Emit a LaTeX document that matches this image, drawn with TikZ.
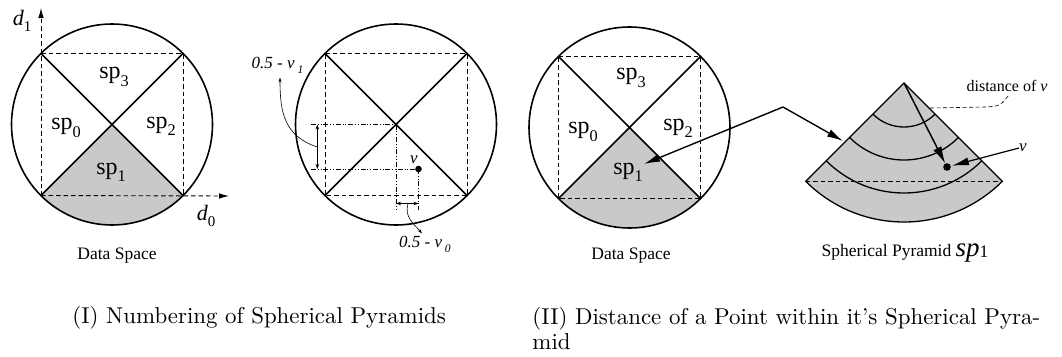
\documentclass[tikz,border=0pt]{standalone}
\usepackage{fontspec}
\newfontfamily\tms{Liberation Serif}
\usetikzlibrary{arrows.meta,calc}
\newcommand\sbs[1]{\raisebox{-0.3em}{\scalebox{0.68}{#1}}}
\begin{document}
\begin{tikzpicture}[x=1pt,y=-1pt,
  circ/.style={line width=1.6pt},
  diag/.style={line width=1.6pt},
  dsh/.style={line width=0.9pt,dash pattern=on 4.5pt off 3pt},
  ddot/.style={line width=0.8pt,dash pattern=on 5pt off 1.8pt on 1pt off 1.8pt on 1pt off 1.8pt},
  shade/.style={fill=gray!42},
  splab/.style={font=\fontsize{24}{28}\tms,inner sep=0pt},
  small/.style={font=\fontsize{17.5}{20}\tms,inner sep=0pt},
  itl/.style={font=\fontsize{17}{20}\tms\itshape,inner sep=0pt},
  dimarr/.style={line width=0.8pt,{Stealth[length=5pt,width=3.5pt]}-{Stealth[length=5pt,width=3.5pt]}},
  lead/.style={line width=0.6pt},
  bigarr/.style={line width=1.5pt,-{Latex[length=17pt,width=9pt]}},
  captxt/.style={font=\fontsize{10}{10.9}\selectfont,inner sep=0pt,scale=2.29,transform shape}
]
\useasboundingbox (0,0) rectangle (1062,356);
\def\R{100.5}
% ================= Panel 1 =================
\coordinate (A) at (112,124.5);
\coordinate (Atl) at ($(A)+(-71,-71)$);
\coordinate (Atr) at ($(A)+(71,-71)$);
\coordinate (Abr) at ($(A)+(71,71)$);
\coordinate (Abl) at ($(A)+(-71,71)$);
\fill[shade] (A) -- (Abl) arc[start angle=135,end angle=45,radius=\R] -- cycle;
\draw[circ] (A) circle[radius=\R];
\draw[diag] (Atl) -- (Abr) (Atr) -- (Abl);
\draw[dsh] (Atl) -- (Atr) -- (Abr);
\coordinate (d1tip) at (41,8);
\coordinate (d0tip) at (229,196);
\draw[dsh,-{Latex[length=10pt,width=5.5pt]}] (Abl) -- (d1tip);
\draw[dsh,-{Latex[length=10pt,width=5.5pt]}] (Abl) -- (d0tip);
\node[splab,font=\fontsize{22}{24}\tms\itshape] (d1) at (22,21) {d\sbs{\upshape 1}};
\node[splab,font=\fontsize{22}{24}\tms\itshape] (d0) at (206,216) {d\sbs{\upshape 0}};
\node[splab] (a3) at (114,77) {sp\sbs{3}};
\node[splab] (a0) at (66,128) {sp\sbs{0}};
\node[splab] (a2) at (161,126) {sp\sbs{2}};
\node[splab] (a1) at (111,172) {sp\sbs{1}};
\node[small] (ds1) at (117,256) {Data Space};
% ================= Panel 2 =================
\coordinate (B) at (396,124.5);
\coordinate (Btl) at ($(B)+(-71,-71)$);
\coordinate (Btr) at ($(B)+(71,-71)$);
\coordinate (Bbr) at ($(B)+(71,71)$);
\coordinate (Bbl) at ($(B)+(-71,71)$);
\draw[circ] (B) circle[radius=\R];
\draw[diag] (Btl) -- (Bbr) (Btr) -- (Bbl);
\draw[dsh] (Btl) -- (Btr) -- (Bbr) -- (Bbl) -- cycle;
\coordinate (v) at (418.5,169);
\coordinate (h1s) at (311,124.5);
\coordinate (h2s) at (311,169);
\coordinate (e1) at (396,210);
\coordinate (e2) at (418.5,210);
\draw[ddot] (h1s) -- (B);
\draw[ddot] (h2s) -- (v);
\draw[ddot] (B) -- (e1);
\draw[ddot] (v) -- (e2);
\fill (v) circle[radius=3.3];
\node[itl] (vl2) at (414,160) {v};
\coordinate (va) at (317.3,124.5);
\coordinate (vb) at (317.3,169);
\coordinate (ha) at (396,203.5);
\coordinate (hb) at (418.5,203.5);
\draw[dimarr] (va) -- (vb);
\draw[dimarr] (ha) -- (hb);
\node[itl] (L1) at (277.5,65) {0.5 - v\,\sbs{1}};
\node[itl,anchor=base west] (L0) at (399,247) {0.5 - v\,\sbs{0}};
\coordinate (vm) at (317.3,147);
\coordinate (hm) at (408,203.5);
\draw[lead,-{Stealth[length=5pt,width=3pt]}] (vm) .. controls (284,136) and (280,112) .. ($(L1.south)+(2.5,4)$);
\draw[lead,-{Stealth[length=5pt,width=3pt]}] (hm) .. controls (404,217) and (414,224) .. ($(L0.north west)+(23,-2)$);
% ================= Panel 3 =================
\coordinate (C) at (629.5,127.5);
\coordinate (Ctl) at ($(C)+(-71,-71)$);
\coordinate (Ctr) at ($(C)+(71,-71)$);
\coordinate (Cbr) at ($(C)+(71,71)$);
\coordinate (Cbl) at ($(C)+(-71,71)$);
\fill[shade] (C) -- (Cbl) arc[start angle=135,end angle=45,radius=\R] -- cycle;
\draw[circ] (C) circle[radius=\R];
\draw[diag] (Ctl) -- (Cbr) (Ctr) -- (Cbl);
\draw[dsh] (Ctl) -- (Ctr) -- (Cbr) -- (Cbl) -- cycle;
\node[splab] (c3) at (631,78) {sp\sbs{3}};
\node[splab] (c0) at (583,132) {sp\sbs{0}};
\node[splab] (c2) at (678,128) {sp\sbs{2}};
\node[splab] (c1) at (628,172) {sp\sbs{1}};
\node[small] (ds3) at (631,256) {Data Space};
% ================= Pyramid =================
\def\Rp{139}
\coordinate (P) at (904,83);
\coordinate (pl) at ($(P)+(135:\Rp)$);
\coordinate (pr) at ($(P)+(45:\Rp)$);
\fill[shade] (P) -- (pl) arc[start angle=135,end angle=45,radius=\Rp] -- cycle;
\foreach \r in {44,77,110}
  \draw[line width=1.3pt] ($(P)+(135:\r)$) arc[start angle=135,end angle=45,radius=\r];
\draw[dsh,line width=1pt] (pl) -- (pr);
\draw[line width=1.3pt] (P) -- (pl) arc[start angle=135,end angle=45,radius=\Rp] -- cycle;
\coordinate (V) at (947,167);
\fill (V) circle[radius=3.8];
\draw[bigarr,shorten >=4pt] (P) -- (V);
\node[itl] (vl3) at (1023,148) {v};
\draw[line width=1.2pt,-{Latex[length=17pt,width=8pt]},shorten >=5pt] (vl3.west) -- (V);
\node[small,font=\fontsize{16}{19}\tms] (dl) at (1007,86) {distance of \textit{v}};
\coordinate (dst) at (930,108);
\coordinate (dmid) at (986,107);
\draw[lead,dash pattern=on 4pt off 2.5pt] (dst) -- (dmid) .. controls (1000,106) .. ($(dl.south)+(2,3)$);
\node[small] (spl) at (905,253) {Spherical Pyramid {\fontsize{27}{30}\selectfont\itshape sp}\raisebox{-0.05em}{1}};
% ================= knee arrow =================
\coordinate (K) at (783,107);
\coordinate (s1t) at (644,164);
\coordinate (pyt) at (843,141);
\draw[line width=1.4pt,-{Latex[length=16pt,width=8pt]}] (K) -- (s1t);
\draw[line width=1.4pt,-{Latex[length=16pt,width=8pt]}] (K) -- (pyt);
% ================= captions =================
\node[captxt,anchor=west] (cap1) at (72,318) {(I) Numbering of Spherical Pyramids};
\node[captxt,anchor=north west,align=left] (cap2) at (532,306.5) {(II) Distance of a Point within it's Spherical Pyra-\\mid};
\end{tikzpicture}
\end{document}
